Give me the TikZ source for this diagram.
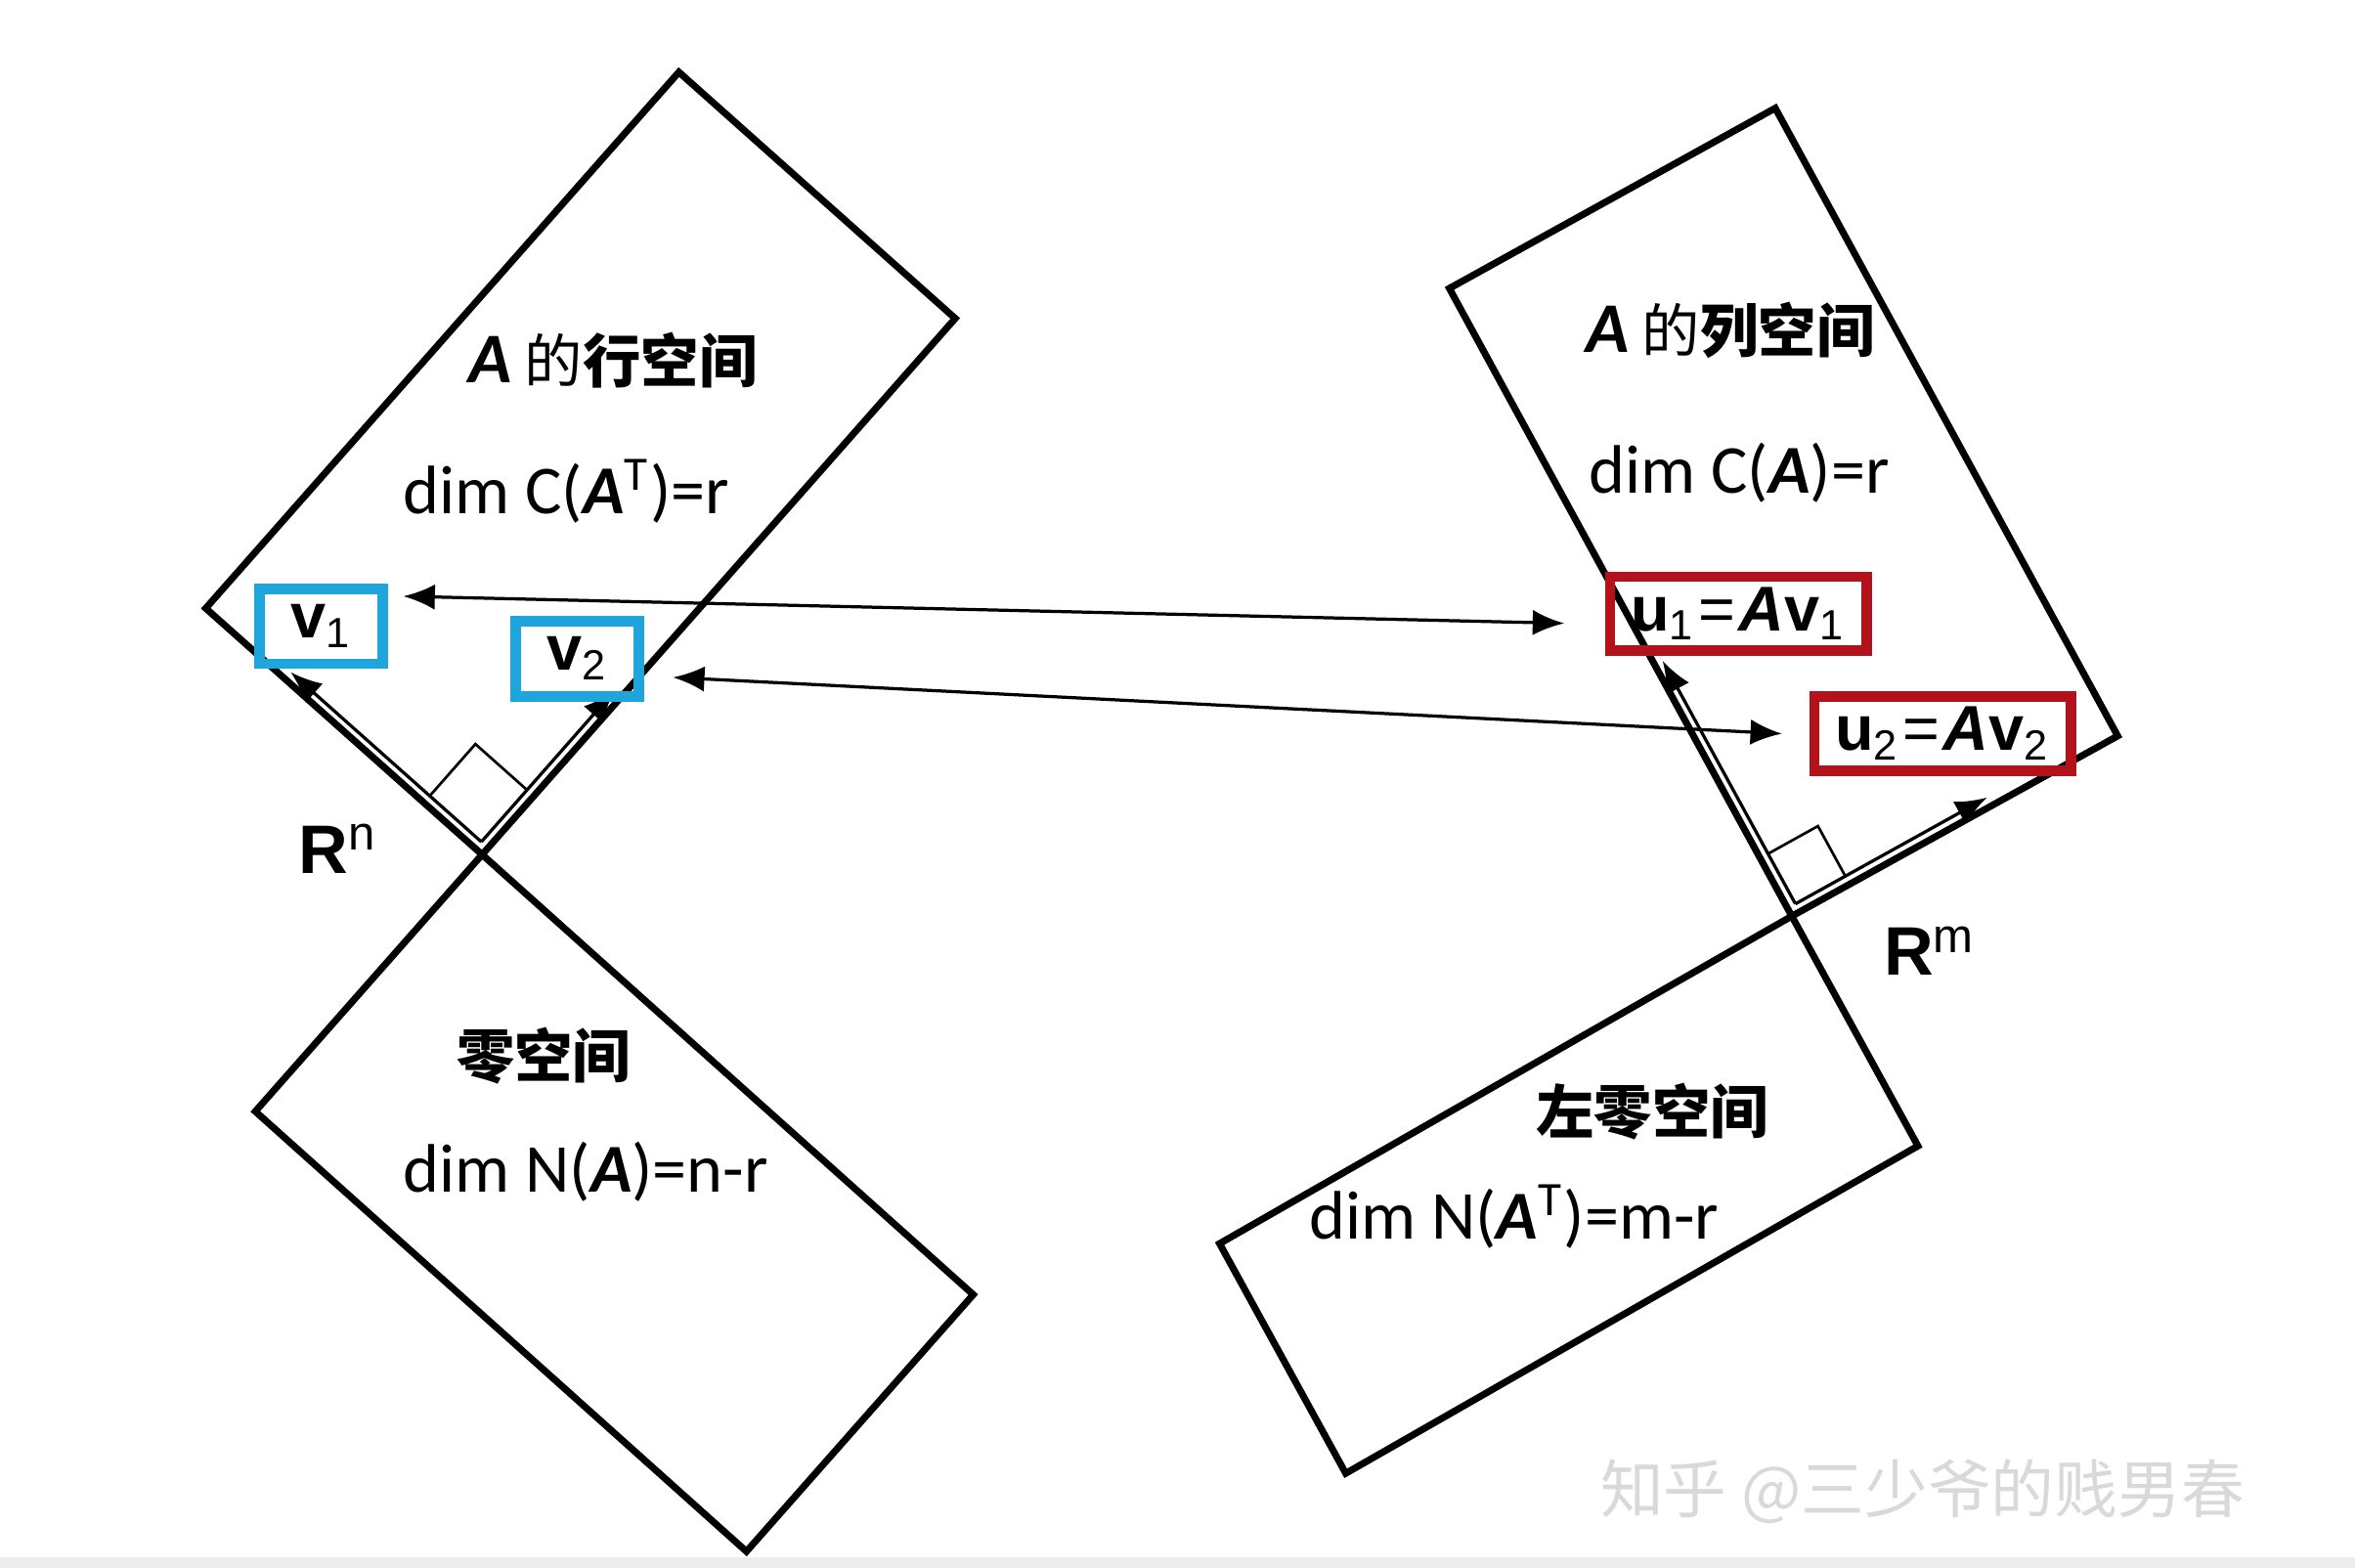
\documentclass[tikz,border=0pt]{standalone}
\usepackage{fontspec}
\setmainfont{Carlito}
\newfontfamily\cjk{Noto Sans CJK SC}
\newfontfamily\arialf{Liberation Sans}
\usepackage{tikz}
\usetikzlibrary{arrows.meta,calc}
\definecolor{boxblue}{HTML}{1EA5DC}
\definecolor{boxred}{HTML}{B4121B}
\definecolor{markgray}{HTML}{D9D9D9}
\newcommand{\bA}{\textbf{\textit{A}}}
\newcommand{\bigA}{{\fontsize{13.5}{15}\selectfont\bA}}

\begin{document}
\begin{tikzpicture}[
  >={Latex[length=2.1mm,width=1.7mm]},
  subsp/.style={line width=1.3pt, line join=miter},
  vecline/.style={->, line width=0.6pt},
  link/.style={<->, line width=0.6pt},
  lbl/.style={font=\fontsize{13}{15}\selectfont, inner sep=0pt},
  subname/.style={font=\fontsize{11}{13}\selectfont\bfseries, inner sep=0pt},
  rlabel/.style={font=\arialf\fontsize{13}{15}\selectfont, inner sep=0pt},
  vbox/.style={draw=boxblue, line width=2pt, minimum width=8.2mm,
    minimum height=5mm, inner sep=0pt, font=\arialf\fontsize{12}{14}\selectfont},
  ubox/.style={draw=boxred, line width=2pt, minimum width=17.1mm,
    minimum height=4.9mm, inner sep=0pt, font=\arialf\fontsize{12}{14}\selectfont}
]
\useasboundingbox (0,0) rectangle (15.68,-10.44);
\fill[black!7] (0,-10.37) rectangle (15.68,-10.44);
\coordinate (On) at (3.21,-5.69);
\coordinate (Om) at (11.93,-6.10);
\draw[subsp] (On) -- (1.37,-4.05) -- (4.52,-0.48) -- (6.36,-2.12) -- cycle;
\draw[subsp] (On) -- (1.70,-7.40) -- (4.97,-10.33) -- (6.48,-8.62) -- cycle;
\draw[subsp] (Om) -- (9.65,-1.92) -- (11.82,-0.72) -- (14.10,-4.90) -- cycle;
\draw[subsp] (Om) -- (8.12,-8.28) -- (8.96,-9.81) -- (12.77,-7.63) -- cycle;
\coordinate (vs) at (3.205,-5.605);
\coordinate (v1tip) at (1.935,-4.475);
\coordinate (v2tip) at (4.09,-4.60);
\draw[vecline] (vs) -- (v1tip);
\draw[vecline] (vs) -- (v2tip);
\coordinate (va) at ($(vs)!4.6mm!(v1tip)$);
\coordinate (vb) at ($(vs)!4.6mm!(v2tip)$);
\draw[line width=0.5pt] (va) -- ($(va)+(vb)-(vs)$) -- (vb);
\coordinate (us) at (11.954,-6.018);
\coordinate (u1tip) at (11.07,-4.40);
\coordinate (u2tip) at (13.23,-5.31);
\draw[vecline] (us) -- (u1tip);
\draw[vecline] (us) -- (u2tip);
\coordinate (ua) at ($(us)!3.8mm!(u1tip)$);
\coordinate (ub) at ($(us)!3.8mm!(u2tip)$);
\draw[line width=0.5pt] (ua) -- ($(ua)+(ub)-(us)$) -- (ub);
\node[vbox] (v1) at (2.14,-4.17) {\textbf{v}\textsubscript{1}};
\node[vbox] (v2) at (3.845,-4.385) {\textbf{v}\textsubscript{2}};
\node[ubox] (u1) at (11.575,-4.085)
  {\textbf{u}\textsubscript{1}\kern0.6pt=\kern0.6pt\textbf{\textit{A}v}\textsubscript{1}};
\node[ubox] (u2) at (12.935,-4.885)
  {\textbf{u}\textsubscript{2}\kern0.6pt=\kern0.6pt\textbf{\textit{A}v}\textsubscript{2}};
\draw[link] ([xshift=1mm,yshift=2mm]v1.east) -- ([xshift=-2.7mm,yshift=-0.65mm]u1.west);
\draw[link] ([xshift=1.9mm,yshift=-1.25mm]v2.east) -- ([xshift=-1.8mm]u2.west);
\node[subname] (rowname) at (4.08,-2.40) {\bigA\ {\cjk\mdseries 的}{\cjk 行空间}};
\node[lbl] (rowdim) at (3.77,-3.27) {dim C(\bA\textsuperscript{T})=r};
\node[subname] (colname) at (11.52,-2.20) {\bigA\ {\cjk\mdseries 的}{\cjk 列空间}};
\node[lbl] (coldim) at (11.58,-3.15) {dim C(\bA)=r};
\node[subname] (nullname) at (3.62,-7.03) {\cjk 零空间};
\node[lbl] (nulldim) at (3.90,-7.80) {dim N(\bA)=n-r};
\node[subname] (lnullname) at (11.00,-7.40) {\cjk 左零空间};
\node[lbl] (lnulldim) at (10.08,-8.10) {dim N(\bA\textsuperscript{T})=m-r};
\node[rlabel] (Rn) at (2.25,-5.65) {\textbf{R}\textsuperscript{n}};
\node[rlabel] (Rm) at (12.85,-6.33) {\textbf{R}\textsuperscript{m}};
\node[font=\cjk\fontsize{12}{14}\selectfont, text=markgray] (mark) at (12.80,-9.93)
  {知乎 @三少爷的贱男春};
\end{tikzpicture}
\end{document}
